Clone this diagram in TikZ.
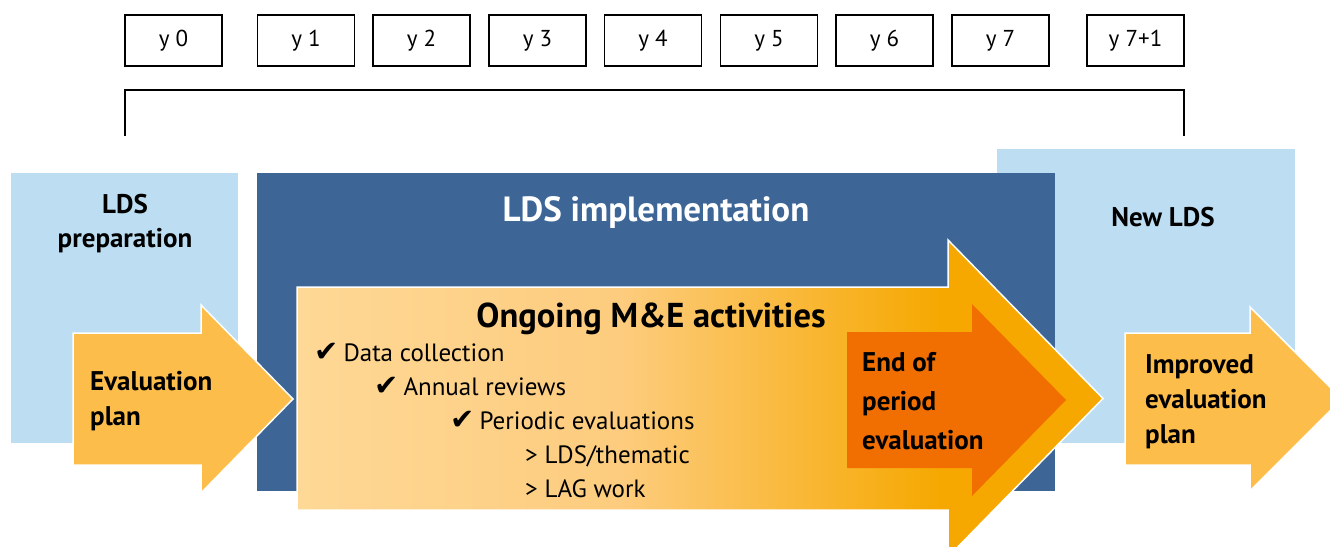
\documentclass[tikz,border=0pt]{standalone}
\usepackage{fontspec}
\setmainfont{PT Sans}
\newfontfamily\symfont{DejaVu Sans}

\definecolor{phaseblue}{HTML}{BDDEF2}
\definecolor{implblue}{HTML}{3D6697}
\definecolor{evalyellow}{HTML}{FDBD4A}
\definecolor{endorange}{HTML}{F16E00}
\definecolor{meLight}{HTML}{FED896}
\definecolor{meMid}{HTML}{FDCC7E}
\definecolor{meDeep}{HTML}{F6A800}

\pgfdeclarehorizontalshading{meshade}{100bp}{color(0bp)=(meLight); color(25bp)=(meLight); color(45bp)=(meMid); color(65bp)=(meDeep); color(100bp)=(meDeep)}

\newcommand{\tick}{{\symfont\fontsize{29}{28}\selectfont ✔}\hspace{5pt}}

\begin{document}
\begin{tikzpicture}[x=1pt, y=-1pt,
    yearbox/.style={draw=black, line width=1.6pt, minimum width=97pt, minimum height=51pt, inner sep=0pt, font=\fontsize{23}{27}\selectfont},
    phase/.style={font=\bfseries\fontsize{27}{34}\selectfont, align=center, inner sep=0pt},
    arrowtext/.style={font=\bfseries\fontsize{27}{35}\selectfont, align=left, anchor=west, inner sep=0pt},
    listitem/.style={font=\fontsize{25}{28}\selectfont, anchor=base west, inner sep=0pt},
    outline/.style={draw=white, line width=1.5pt, line join=miter}]
    \useasboundingbox (0,0) rectangle (1330,546);
    \clip (0,0) rectangle (1330,546);

    % Years
    \foreach \cx/\yr [count=\i] in {173.5/0, 306/1, 421.5/2, 537.5/3, 653/4, 769/5, 884.5/6, 1000.5/7, 1135.5/7+1}
        \node[yearbox] (yr\i) at (\cx,40.5) {y \yr};

    % Bracket
    \coordinate (brL) at (125,136);
    \coordinate (brR) at (1184,136);
    \draw[line width=1.6pt] (brL) -- ++(0,-46) -| (brR);

    % Phase boxes
    \fill[phaseblue] (997,149) rectangle (1295,443);
    \fill[phaseblue] (11,173) rectangle (238,443);
    \fill[implblue] (257,173) rectangle (1055,491);

    % Arrows
    \filldraw[outline, fill=evalyellow] (73,333) -- (201,333) -- (201,305) -- (293,399) -- (201,493) -- (201,465) -- (73,465) -- cycle;
    \shadedraw[outline, shading=meshade] (297,287) -- (948,287) -- (948,240) -- (1103,398.5) -- (948,557) -- (948,510) -- (297,510) -- cycle;
    \fill[endorange] (847,332) -- (972,332) -- (972,304) -- (1066,400) -- (972,496) -- (972,468) -- (847,468) -- cycle;
    \filldraw[outline, fill=evalyellow] (1125,333) -- (1250,333) -- (1250,307) -- (1342,399) -- (1250,491) -- (1250,465) -- (1125,465) -- cycle;

    % Phase labels
    \node[phase] (prep) at (125,224) {LDS\\preparation};
    \node[font=\bfseries\fontsize{35}{40}\selectfont, text=white, anchor=base, inner sep=0pt] (impl) at (656,221) {LDS implementation};
    \node[phase, anchor=base] (newlds) at (1163,226) {New LDS};

    % M&E activities
    \node[font=\bfseries\fontsize{34.5}{40}\selectfont, anchor=base, inner sep=0pt] (ongoing) at (651,327) {Ongoing M\&E activities};
    \node[listitem] (datacoll) at (314,361) {\tick Data collection};
    \node[listitem] (annual) at (374,395) {\tick Annual reviews};
    \node[listitem] (periodic) at (450,429) {\tick Periodic evaluations};
    \node[listitem] (thematic) at (525,463) {> LDS/thematic};
    \node[listitem] (lagwork) at (525,497) {> LAG work};

    % Arrow labels
    \node[arrowtext] (evalplan) at (90,401) {Evaluation\\plan};
    \node[arrowtext, font=\bfseries\fontsize{27}{39}\selectfont] (endeval) at (862,401) {End of\\period\\evaluation};
    \node[arrowtext] (improved) at (1145,402) {Improved\\evaluation\\plan};
\end{tikzpicture}
\end{document}
